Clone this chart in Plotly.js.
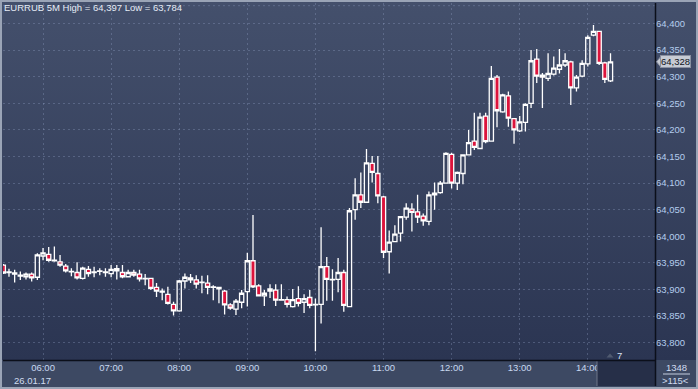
<!DOCTYPE html>
<html>
<head>
<meta charset="utf-8">
<script src="https://cdn.plot.ly/plotly-3.0.1.min.js"></script>
<style>
html,body{margin:0;padding:0;background:#2b3552;}
#chart{width:698px;height:389px;background:linear-gradient(to bottom,#44506c 0px,#2b3552 360px,#2b3552 389px);}
</style>
</head>
<body>
<div id="chart"></div>
<script>
// ---- data (EURRUB, 5-minute candles, 26.01.17, starting 05:25) ----
const sessionDate = '2017-01-26';
const firstCandle = '05:25';
const stepMinutes = 5;

const openVals = [63946,63932,63929,63925,63924,63929,63923,63963,63966,63954,
63952,63944,63933,63932,63921,63938,63932,63934,63932,63930,
63939,63932,63924,63932,63929,63920,63921,63904,63895,63891,
63872,63860,63916,63922,63918,63913,63912,63904,63901,63897,
63871,63863,63876,63896,63954,63907,63888,63897,63899,63880,
63881,63868,63883,63876,63885,63871,63872,63943,63918,63919,
63932,63868,64050,64078,64064,64137,64118,64074,63971,63990,
64006,64036,64051,64046,64038,64028,64078,64082,64100,64154,
64100,64118,64153,64179,64165,64226,64179,64299,64234,64264,
64221,64198,64214,64250,64333,64303,64297,64305,64314,64322,
64328,64279,64301,64324,64378,64385,64326,64292];

const highVals = [63948,63939,63937,63934,63932,63932,63968,63978,63980,63981,
63965,63948,63940,63951,63943,63944,63943,63940,63940,63946,
63946,63946,63937,63937,63937,63929,63922,63912,63902,63905,
63877,63918,63930,63929,63927,63926,63927,63908,63905,63899,
63874,63882,63899,63969,64040,63910,63899,63910,63910,63910,
63887,63901,63906,63891,63899,63883,64017,63961,63938,63959,
63937,64053,64109,64120,64164,64151,64151,64076,64011,64021,
64038,64062,64062,64078,64043,64084,64101,64104,64158,64157,
64122,64154,64200,64232,64232,64232,64320,64303,64268,64272,
64222,64226,64250,64350,64352,64307,64344,64338,64352,64344,
64330,64303,64331,64378,64397,64386,64328,64344];

const lowVals = [63929,63924,63913,63918,63919,63915,63918,63955,63952,63952,
63943,63932,63925,63919,63919,63924,63923,63927,63924,63923,
63919,63921,63923,63924,63915,63908,63899,63886,63880,63872,
63851,63858,63902,63912,63902,63893,63891,63880,63874,63853,
63862,63852,63865,63868,63903,63887,63869,63884,63869,63879,
63866,63866,63868,63856,63865,63784,63836,63879,63879,63895,
63858,63867,64031,64053,64063,64101,64062,63959,63930,63989,
63990,64031,64009,64025,64020,64021,64050,64080,64099,64090,
64087,64098,64152,64162,64164,64175,64178,64205,64232,64206,
64174,64196,64197,64241,64288,64241,64292,64302,64306,64318,
64247,64272,64299,64319,64376,64322,64288,64290];

const closeVals = [63931,63933,63931,63927,63929,63922,63965,63969,63955,63955,
63946,63935,63934,63922,63940,63930,63933,63935,63933,63938,
63935,63924,63932,63927,63920,63921,63902,63897,63897,63874,
63860,63916,63923,63918,63910,63914,63904,63905,63904,63871,
63865,63878,63893,63954,63905,63888,63893,63901,63880,63881,
63872,63881,63874,63883,63870,63872,63943,63919,63919,63932,
63870,64048,64078,64064,64138,64120,64076,63970,63989,64004,
64037,64053,64045,64036,64029,64078,64081,64100,64156,64100,
64120,64153,64176,64167,64224,64178,64297,64236,64266,64222,
64200,64215,64248,64330,64301,64299,64306,64316,64322,64330,
64279,64299,64325,64374,64385,64325,64295,64328];

const hourLabels = ['06:00','07:00','08:00','09:00','10:00','11:00','12:00','13:00','14:00'];
const priceTickVals = [63800,63850,63900,63950,64000,64050,64100,64150,64200,64250,64300,64350,64400];
const priceTickText = ['63,800','63,850','63,900','63,950','64,000','64,050','64,100','64,150','64,200','64,250','64,300','64,350','64,400'];

const titleText = 'EURRUB 5M High = 64,397 Low = 63,784';
const dateLabel = '26.01.17';
const barsLabel = '1348';
const visibleLabel = '>115<';
const scrollLabel = '7';
const priceLabelText = '64,328';

// ---- geometry ----
const W = 698, H = 389;
const M = {l:3, r:43, t:3, b:29};
const PW = W - M.l - M.r, PH = H - M.t - M.b;
const px2x = x => (x - M.l) / PW;
const py2y = y => (H - M.b - y) / PH;
const xRange = [sessionDate + ' 05:24:44', sessionDate + ' 14:59:12'];
const yRange = [63767.5, 64438.5];
const val2py = v => (yRange[1] - v) / (yRange[1] - yRange[0]) * PH + M.t;

function pad(n){return (n<10?'0':'')+n;}
const [fh, fm] = firstCandle.split(':').map(Number);
const times = openVals.map((_, i) => {
  const m = fh*60 + fm + i*stepMinutes;
  return sessionDate + ' ' + pad(Math.floor(m/60)) + ':' + pad(m%60);
});
const hourVals = hourLabels.map(h => sessionDate + ' ' + h);

const FONT = 'Liberation Sans, Arial, Helvetica, sans-serif';
const gridCol = 'rgba(150,165,200,0.33)';

const trace = {
  type: 'candlestick',
  x: times, open: openVals, high: highVals, low: lowVals, close: closeVals,
  increasing: {line: {color: '#ffffff', width: 1.3}, fillcolor: 'rgba(0,0,0,0)'},
  decreasing: {line: {color: '#ffffff', width: 1.3}, fillcolor: '#dc143c'},
  whiskerwidth: 0,
  hoverinfo: 'skip',
  showlegend: false
};

const lastClose = closeVals[closeVals.length - 1];
const lcPy = val2py(lastClose);

const shapes = [
  // bottom time strip
  {type:'rect', xref:'paper', yref:'paper', layer:'below',
   x0: px2x(0), x1: px2x(W), y0: py2y(H), y1: py2y(360),
   fillcolor:'#3d4963', line:{width:0}},
  // extra dashed line near top
  {type:'line', xref:'paper', yref:'paper', layer:'below',
   x0: 0, x1: 1, y0: py2y(5.7), y1: py2y(5.7),
   line:{color:gridCol, width:1, dash:'2px,3px'}},
  // dark scroll box
  {type:'rect', xref:'paper', yref:'paper', layer:'above',
   x0: px2x(597), x1: px2x(655), y0: py2y(386), y1: py2y(361),
   fillcolor:'#262f48', line:{width:0}},
  {type:'line', xref:'paper', yref:'paper', layer:'above',
   x0: px2x(597), x1: px2x(597), y0: py2y(386), y1: py2y(360),
   line:{color:'#6f7789', width:1}},
  // small triangle
  {type:'path', xref:'paper', yref:'paper', layer:'above',
   path: 'M'+px2x(606.5)+','+py2y(357.5)+' L'+px2x(613.5)+','+py2y(357.5)+' L'+px2x(610)+','+py2y(353.5)+' Z',
   fillcolor:'#505a70', line:{width:0}},
  // separator lines
  {type:'line', xref:'paper', yref:'paper', layer:'above',
   x0: px2x(655.5), x1: px2x(655.5), y0: py2y(386), y1: py2y(3),
   line:{color:'#0b0f1a', width:1.5}},
  {type:'line', xref:'paper', yref:'paper', layer:'above',
   x0: px2x(3), x1: px2x(655.5), y0: py2y(360.5), y1: py2y(360.5),
   line:{color:'#0b0f1a', width:1.5}},
  // underline bars count
  {type:'line', xref:'paper', yref:'paper', layer:'above',
   x0: px2x(663), x1: px2x(690), y0: py2y(374), y1: py2y(374),
   line:{color:'#c4cee0', width:1}},
  // price label arrow
  {type:'path', xref:'paper', yref:'paper', layer:'above',
   path: 'M'+px2x(656.5)+','+py2y(lcPy)+' L'+px2x(661)+','+py2y(lcPy-5.5)+' L'+px2x(661)+','+py2y(lcPy+5.5)+' Z',
   fillcolor:'#c6cbd4', line:{color:'#8a90a0', width:1}},
  // outer frame
  {type:'rect', xref:'paper', yref:'paper', layer:'above',
   x0: px2x(0), x1: px2x(W), y0: py2y(H), y1: py2y(0),
   fillcolor:'rgba(0,0,0,0)', line:{color:'#9aa4b6', width:4}}
];

const annFont = (c) => ({family: FONT, size: 9.5, color: c});
const annotations = [
  {xref:'paper', yref:'paper', x: px2x(12), y: py2y(380.5), xanchor:'left', yanchor:'middle',
   text: dateLabel, showarrow:false, font: annFont('#d0dcf0')},
  {xref:'paper', yref:'paper', x: px2x(619), y: py2y(355), xanchor:'center', yanchor:'middle',
   text: scrollLabel, showarrow:false, font: annFont('#d8e2f2')},
  {xref:'paper', yref:'paper', x: px2x(676.5), y: py2y(367.5), xanchor:'center', yanchor:'middle',
   text: barsLabel, showarrow:false, font: annFont('#d0dcf0')},
  {xref:'paper', yref:'paper', x: px2x(675.5), y: py2y(380.5), xanchor:'center', yanchor:'middle',
   text: visibleLabel, showarrow:false, font: annFont('#d0dcf0')},
  {xref:'paper', yref:'y', x: px2x(660), y: lastClose, xanchor:'left', yanchor:'middle',
   text: priceLabelText, showarrow:false, font: annFont('#10131c'),
   bgcolor:'#c6cbd4', bordercolor:'#8a90a0', borderwidth:1, borderpad:0}
];

const layout = {
  width: W, height: H,
  margin: M,
  paper_bgcolor: 'rgba(0,0,0,0)',
  plot_bgcolor: 'rgba(0,0,0,0)',
  showlegend: false,
  boxgap: 0.26, boxgroupgap: 0,
  title: {text: titleText, xref:'container', yref:'container',
          x: 4/W, xanchor:'left', y: 1 - 8/H, yanchor:'middle',
          font: {family: FONT, size: 9.5, color: '#e6ecf6'}},
  xaxis: {
    type: 'date', range: xRange, rangeslider: {visible: false},
    tickvals: hourVals, ticktext: hourLabels,
    showgrid: true, gridcolor: gridCol, griddash: '2px,3px', gridwidth: 1,
    zeroline: false, showline: false, ticks: '',
    tickfont: {family: FONT, size: 9.5, color: '#c8d8f0'},
    fixedrange: true
  },
  yaxis: {
    side: 'right', range: yRange,
    tickvals: priceTickVals, ticktext: priceTickText,
    showgrid: true, gridcolor: gridCol, griddash: '2px,3px', gridwidth: 1,
    zeroline: false, showline: false, ticks: '',
    tickfont: {family: FONT, size: 9.5, color: '#b4cdee'},
    fixedrange: true
  },
  shapes: shapes,
  annotations: annotations
};

Plotly.newPlot('chart', [trace], layout, {displayModeBar: false, staticPlot: true});
</script>
</body>
</html>
